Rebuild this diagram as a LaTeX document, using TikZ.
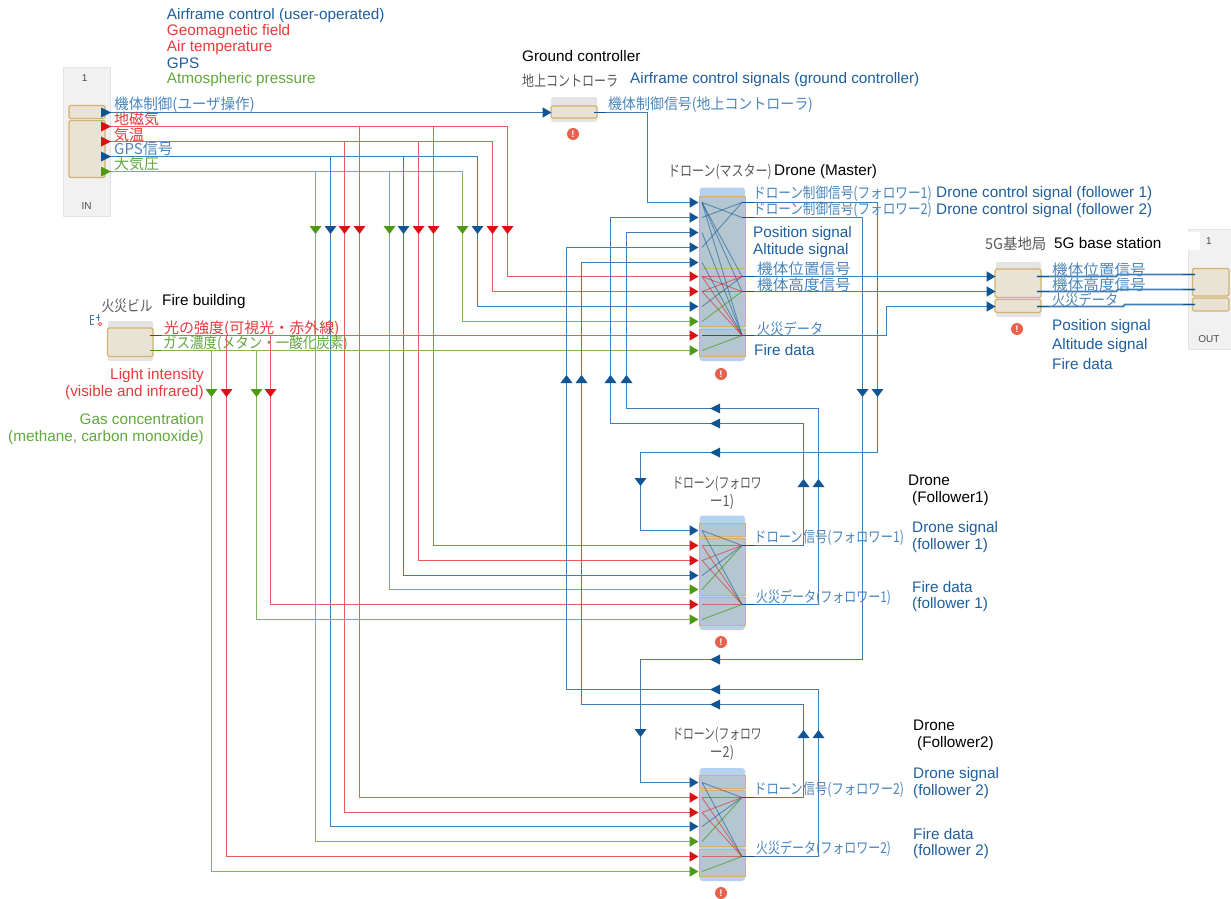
\documentclass[tikz,border=0pt]{standalone}
\usepackage{fontspec}
\usepackage{graphicx}
\setmainfont{Liberation Sans}
\newfontfamily\jpf{Noto Sans CJK JP}
\usetikzlibrary{arrows.meta}
\definecolor{bl}{HTML}{3F7EB6}
\definecolor{bld}{HTML}{0F5596}
\definecolor{rd}{HTML}{EA5C5B}
\definecolor{rdd}{HTML}{DC0F14}
\definecolor{gn}{HTML}{7FB758}
\definecolor{gnd}{HTML}{4C9A14}
\definecolor{tanb}{HTML}{D2B36E}
\definecolor{tanf}{HTML}{E9E3D6}
\definecolor{outer}{HTML}{B5D3F0}
\definecolor{inner}{HTML}{B4C7D1}
\definecolor{grayb}{HTML}{E4E4E4}
\definecolor{pane}{HTML}{F1F1F1}
\definecolor{tblue}{HTML}{1F5F9E}
\definecolor{jblue}{HTML}{4C86BC}
\definecolor{tred}{HTML}{E63B3B}
\definecolor{tgreen}{HTML}{62A93E}
\definecolor{errc}{HTML}{E9604C}
\tikzset{
  box/.style={inner sep=0pt,outer sep=0pt,draw=none},
  panebox/.style={box,fill=pane,draw=grayb,line width=.7pt},
  grayblock/.style={box,fill=grayb,rounded corners=2pt},
  tanblock/.style={box,fill=tanf,draw=tanb,line width=1.1pt,rounded corners=1.5pt},
  outerblock/.style={box,fill=outer,rounded corners=3pt},
  innerblock/.style={box,fill=inner},
  bandblock/.style={box,draw=tanb,line width=1pt,fill=inner},
  bw/.style={draw=bl,line width=1.8pt},
  rw/.style={draw=rd,line width=1.8pt},
  gw/.style={draw=gn,line width=1.8pt},
  bt/.style={bw,-{Triangle[length=9pt,width=10pt,color=bld]}},
  rt/.style={rw,-{Triangle[length=9pt,width=10pt,color=rdd]}},
  gt/.style={gw,-{Triangle[length=9pt,width=10pt,color=gnd]}},
  stub/.style={draw=bld,line width=1.5pt},
  ib/.style={draw=bld,line width=.9pt,opacity=.55},
  ir/.style={draw=rdd,line width=.9pt,opacity=.5},
  ig/.style={draw=gnd,line width=.9pt,opacity=.7},
  lab/.style={inner sep=0pt,anchor=west,yshift=-1.5pt,font=\fontsize{15.3}{17}\selectfont},
  labr/.style={inner sep=0pt,anchor=east,yshift=-1.5pt,font=\fontsize{15.3}{17}\selectfont},
  jl/.style={inner sep=0pt,anchor=west,yshift=-1.5pt,font=\jpf\fontsize{15}{17}\selectfont},
  jc/.style={inner sep=0pt,anchor=center,yshift=-1.5pt,font=\jpf\fontsize{15}{17}\selectfont,text=black!65},
  err/.style={circle,fill=errc,text=white,inner sep=0pt,minimum size=12pt,font=\bfseries\fontsize{9.5}{9.5}\selectfont},
  paneltext/.style={inner sep=0pt,font=\fontsize{10}{10}\selectfont,text=black!70},
}
\newcommand\sx[2]{\scalebox{#1}[1]{#2}}
\newcommand\blk[6]{%
  \pgfmathsetmacro\bw{#5-#3}\pgfmathsetmacro\bh{#6-#4}%
  \pgfmathsetmacro\bx{(#3+#5)/2}\pgfmathsetmacro\by{(#4+#6)/2}%
  \node[#2,minimum width=\bw pt,minimum height=\bh pt] (#1) at (\bx,\by) {};}
\newcommand\route[4]{\draw[#1] (#2) -| (#3,0 |- #4) -- (#4);}
\newcommand\mkD[3]{\fill[#1,shift={(#2,#3)}] (-6,-4) -- (6,-4) -- (0,4) -- cycle;}
\newcommand\mkU[3]{\fill[#1,shift={(#2,#3)}] (-6,4) -- (6,4) -- (0,-4) -- cycle;}
\newcommand\mkL[3]{\fill[#1,shift={(#2,#3)}] (5,-5) -- (5,5) -- (-5,0) -- cycle;}
\newcommand\mkR[3]{\fill[#1,shift={(#2,#3)}] (-5,-5) -- (-5,5) -- (5,0) -- cycle;}
\begin{document}
\begin{tikzpicture}[x=1pt,y=-1pt]
\useasboundingbox[fill=white] (0,0) rectangle (1231,899);
% ---------- blocks
\blk{inpane}{panebox}{63.5}{67}{110}{216.5}
\blk{inA}{tanblock}{69}{105.5}{105}{118.5}
\blk{inB}{tanblock}{69}{120.5}{105}{177.5}
\blk{outpane}{panebox}{1188}{229.5}{1233}{349}
\blk{outcell}{box,fill=white}{1188}{232}{1200}{250}
\blk{outA}{tanblock}{1192.5}{268.5}{1229}{296}
\blk{outB}{tanblock}{1192.5}{298}{1229}{311}
\blk{gcO}{grayblock}{551}{97}{597}{122}
\blk{gcT}{tanblock}{551}{106}{597}{118}
\blk{bsO}{grayblock}{996}{262}{1041}{317}
\blk{bsA}{tanblock}{995}{269}{1041}{297.5}
\blk{bsB}{tanblock}{995}{299.5}{1041}{312.5}
\blk{fbO}{grayblock}{108}{321}{153}{361}
\blk{fbT}{tanblock}{107.5}{328}{153}{356.5}
% master
\blk{mO}{outerblock}{699.5}{187.5}{745}{361}
\blk{mA}{bandblock}{699.5}{196}{745}{268}
\blk{mB}{bandblock}{699.5}{268}{745}{326.5}
\blk{mC}{bandblock}{699.5}{329}{745}{356}
% follower 1
\blk{aO}{outerblock}{699.5}{515.5}{745}{630}
\blk{aA}{bandblock}{699.5}{523.5}{745}{536.5}
\blk{aB}{bandblock}{699.5}{538}{745}{595}
\blk{aC}{bandblock}{699.5}{597}{745}{625}
% follower 2
\blk{cO}{outerblock}{699.5}{768}{745}{881}
\blk{cA}{bandblock}{699.5}{775}{745}{788}
\blk{cB}{bandblock}{699.5}{790}{745}{846.5}
\blk{cC}{bandblock}{699.5}{849}{745}{876.5}
% ---------- pins
\foreach \n/\y in {1/112.5,2/126.5,3/141.5,4/156.5,5/171.5}{\coordinate (in\n) at (105,\y);}
\foreach \n/\y in {1/202.5,2/217.5,3/232.5,4/247.5,5/262.5,6/276.5,7/291.5,8/306.5,9/321.5,10/335.5,11/350.5}{\coordinate (mi\n) at (698.5,\y);\coordinate (mj\n) at (702,\y);}
\foreach \n/\y in {1/202.5,2/217.5,3/276.5,4/291.5,5/335.5}{\coordinate (mo\n) at (742,\y);}
\foreach \n/\y in {1/530.5,2/545.5,3/560.5,4/575.5,5/589.5,6/604.5,7/619.5}{\coordinate (ai\n) at (698.5,\y);\coordinate (aj\n) at (702,\y);}
\foreach \n/\y in {1/545.5,2/604.5}{\coordinate (ao\n) at (742,\y);}
\foreach \n/\y in {1/782.5,2/797.5,3/812.5,4/826.5,5/841.5,6/856.5,7/871.5}{\coordinate (ci\n) at (698.5,\y);\coordinate (cj\n) at (702,\y);}
\foreach \n/\y in {1/797.5,2/856.5}{\coordinate (co\n) at (742,\y);}
\foreach \n/\y in {1/276.5,2/291.5,3/306.5}{\coordinate (bi\n) at (995.5,\y);\coordinate (bo\n) at (1037,\y);}
\coordinate (ou1) at (1195,274.5);\coordinate (ou2) at (1195,289.5);\coordinate (ou3) at (1195,304.5);
\coordinate (gi) at (551.5,112.5);\coordinate (go) at (594,112.5);
\coordinate (fr) at (150,335.5);\coordinate (fg) at (150,350.5);
% ---------- internal wires master
\foreach \o in {2,3,4,5}{\draw[ib] (mj1) -- (mo\o);}
\draw[ib] (mj2) -- (mo1);\draw[ib] (mj4) -- (mo1);
\draw[ib] (mj3) -- (mo5);\draw[ib] (mj5) -- (mo5);\draw[ib] (mj8) -- (mo3);
\foreach \o in {3,4,5}{\draw[ir] (mj6) -- (mo\o);\draw[ir] (mj7) -- (mo\o);}
\draw[ir,opacity=1] (mj10) -- (mo5);
\draw[ig] (mj9) -- (mo4);\draw[ig] (mj11) -- (mo5);
% internal wires followers
\foreach \p in {a,c}{
  \foreach \o in {1,2}{\draw[ib] (\p j1) -- (\p o\o);\draw[ir] (\p j2) -- (\p o\o);\draw[ir] (\p j3) -- (\p o\o);}
  \draw[ib] (\p j4) -- (\p o1);\draw[ig] (\p j5) -- (\p o1);
  \draw[ir] (\p j6) -- (\p o2);\draw[ig] (\p j7) -- (\p o2);
}
% ---------- wires: inputs to drones
\draw[bt] (in1) -- (gi);
\draw[bt] (go) -| (647.5,0 |- mi1) -- (mi1);
\route{rt}{in2}{507.5}{mi6}\route{rt}{in3}{492.5}{mi7}\route{bt}{in4}{477.5}{mi8}\route{gt}{in5}{462.5}{mi9}
\route{rt}{in2}{433.5}{ai2}\route{rt}{in3}{418.5}{ai3}\route{bt}{in4}{403.5}{ai4}\route{gt}{in5}{389.5}{ai5}
\route{rt}{in2}{359.5}{ci2}\route{rt}{in3}{344.5}{ci3}\route{bt}{in4}{330.5}{ci4}\route{gt}{in5}{315.5}{ci5}
\draw[rt] (fr) -- (mi10);\draw[gt] (fg) -- (mi11);
\route{rt}{fr}{270.5}{ai6}\route{gt}{fg}{256.5}{ai7}
\route{rt}{fr}{226.5}{ci6}\route{gt}{fg}{211.5}{ci7}
% master outputs to followers
\draw[bt] (mo1) -| (877.5,452.5) -| (640.5,0 |- ai1) -- (ai1);
\draw[bt] (mo2) -| (862.5,659.5) -| (640.5,0 |- ci1) -- (ci1);
% follower outputs to master
\draw[bt] (ao1) -| (803.5,423.5) -| (610.5,0 |- mi2) -- (mi2);
\draw[bt] (ao2) -| (818.5,408.5) -| (626.5,0 |- mi3) -- (mi3);
\draw[bt] (co1) -| (803.5,704.5) -| (581.5,0 |- mi5) -- (mi5);
\draw[bt] (co2) -| (818.5,689.5) -| (566.5,0 |- mi4) -- (mi4);
% master to base station
\draw[bt] (mo3) -- (bi1);\draw[bt] (mo4) -- (bi2);
\draw[bt] (mo5) -| (886.5,0 |- bi3) -- (bi3);
% base station to out
\draw[bw] (bo1) -- ++(79,0) -- ++(2,-2) -- (ou1);
\draw[bw] (bo2) -- ++(79,0) -- ++(2,-2) -- (ou2);
\draw[bw] (bo3) -- ++(86,0) -- ++(2,-2) -- (ou3);
% stubs
\foreach \o in {mo1,mo2,mo3,mo4,mo5,ao1,ao2,co1,co2,bo1,bo2,bo3,go}{\draw[stub] (\o) -- ++(12,0);}
\foreach \o in {ou1,ou2,ou3}{\draw[stub] (\o) -- ++(-12,0);}
\draw[draw=rdd,line width=1.5pt] (fr) -- ++(12,0);
\draw[draw=gnd,line width=1.5pt] (fg) -- ++(12,0);
% ---------- mid-wire arrowheads
\mkR{bld}{106}{112.5}\mkR{rdd}{106}{126.5}\mkR{rdd}{106}{141.5}\mkR{bld}{106}{156.5}\mkR{gnd}{106}{171.5}
\foreach \x/\c in {315.5/gnd,330.5/bld,344.5/rdd,359.5/rdd,389.5/gnd,403.5/bld,418.5/rdd,433.5/rdd,462.5/gnd,477.5/bld,492.5/rdd,507.5/rdd}{\mkD{\c}{\x}{230}}
\foreach \x/\c in {211.5/gnd,226.5/rdd,256.5/gnd,270.5/rdd}{\mkD{\c}{\x}{393}}
\foreach \x in {566.5,581.5,610.5,626.5}{\mkU{bld}{\x}{379}}
\foreach \x in {862.5,877.5}{\mkD{bld}{\x}{393}}
\foreach \y in {408.5,423.5,452.5,659.5,689.5,704.5}{\mkL{bld}{715}{\y}}
\mkD{bld}{640.5}{482}\mkD{bld}{640.5}{733}
\foreach \y in {483,734}{\mkU{bld}{803.5}{\y}\mkU{bld}{818.5}{\y}}
% fire building icon
\draw[bl,line width=.8pt] (90,315) -- (90,324) (90,315) -- (94,315) (90,319.5) -- (94,319.5) (90,324) -- (94,324);
\draw[bl,line width=.8pt] (98,314) -- (98,321) (96,317) -- (100,317);
\draw[rd,line width=.9pt] (100,324) circle (1.8);
% ---------- error marks
\node[err] (e1) at (721,374) {!};
\node[err] (e2) at (573,134) {!};
\node[err] (e3) at (1017,329) {!};
\node[err] (e4) at (721,642) {!};
\node[err] (e5) at (721,893) {!};
% ---------- panel texts
\node[paneltext] (t1) at (84.7,78) {1};
\node[paneltext] (t2) at (86.7,206.5) {IN};
\node[paneltext] (t3) at (1209,241) {1};
\node[paneltext] (t4) at (1209,339) {OUT};
% ---------- english labels
\node[lab,text=tblue] (l1) at (166.7,14) {Airframe control (user-operated)};
\node[lab,text=tred] (l2) at (166.7,30) {Geomagnetic field};
\node[lab,text=tred] (l3) at (166.7,46) {Air temperature};
\node[lab,text=tblue] (l4) at (166.7,62) {GPS};
\node[lab,text=tgreen] (l5) at (166.7,78) {Atmospheric pressure};
\node[lab] (l6) at (522,55) {Ground controller};
\node[lab,text=tblue] (l7) at (630,78) {Airframe control signals (ground controller)};
\node[lab] (l8) at (774,170) {Drone (Master)};
\node[lab,text=tblue] (l9) at (936,192) {Drone control signal (follower 1)};
\node[lab,text=tblue] (l10) at (936,209) {Drone control signal (follower 2)};
\node[lab,text=tblue] (l11) at (753,232) {Position signal};
\node[lab,text=tblue] (l12) at (753,249) {Altitude signal};
\node[lab,text=tblue] (l13) at (754,349) {Fire data};
\node[lab] (l14) at (1054,242) {5G base station};
\node[lab,text=tblue] (l15) at (1052,325) {Position signal};
\node[lab,text=tblue] (l16) at (1052,344) {Altitude signal};
\node[lab,text=tblue] (l17) at (1052,363) {Fire data};
\node[lab] (l18) at (162,300) {Fire building};
\node[labr,text=tred] (l19) at (204,374) {Light intensity};
\node[labr,text=tred] (l20) at (204,391) {(visible and infrared)};
\node[labr,text=tgreen] (l21) at (204,418) {Gas concentration};
\node[labr,text=tgreen] (l22) at (204,436) {(methane, carbon monoxide)};
\node[lab] (l23) at (908,479) {Drone};
\node[lab] (l24) at (912,497) {(Follower1)};
\node[lab,text=tblue] (l25) at (912,527) {Drone signal};
\node[lab,text=tblue] (l26) at (912,544) {(follower 1)};
\node[lab,text=tblue] (l27) at (912,586) {Fire data};
\node[lab,text=tblue] (l28) at (912,603) {(follower 1)};
\node[lab] (l29) at (913,724) {Drone};
\node[lab] (l30) at (917,742) {(Follower2)};
\node[lab,text=tblue] (l31) at (913,773) {Drone signal};
\node[lab,text=tblue] (l32) at (913,790) {(follower 2)};
\node[lab,text=tblue] (l33) at (913,833) {Fire data};
\node[lab,text=tblue] (l34) at (913,850) {(follower 2)};
% ---------- japanese labels
\node[jl,text=jblue] (j1) at (114,103) {\sx{.97}{機体制御(ユーザ操作)}};
\node[jl,text=tred] (j2) at (114,117) {地磁気};
\node[jl,text=tred] (j3) at (114,133) {気温};
\node[jl,text=jblue] (j4) at (114,147) {GPS信号};
\node[jl,text=tgreen] (j5) at (114,162) {大気圧};
\node[jc,anchor=west] (j6) at (522,79) {\sx{.8}{地上コントローラ}};
\node[jl,text=jblue] (j7) at (608,103) {\sx{.93}{機体制御信号(地上コントローラ)}};
\node[jc,anchor=west] (j8) at (668,170) {\sx{.8}{ドローン(マスター)}};
\node[jl,text=jblue] (j9) at (753,192) {\sx{.84}{ドローン制御信号(フォロワー1)}};
\node[jl,text=jblue] (j10) at (753,208) {\sx{.84}{ドローン制御信号(フォロワー2)}};
\node[jl,text=jblue] (j11) at (757,267) {\sx{1.04}{機体位置信号}};
\node[jl,text=jblue] (j12) at (757,283) {\sx{1.04}{機体高度信号}};
\node[jl,text=jblue] (j13) at (757,327) {\sx{.88}{火災データ}};
\node[jc,anchor=west] (j14) at (985,242) {\sx{.96}{5G基地局}};
\node[jl,text=jblue] (j15) at (1052,268) {\sx{1.04}{機体位置信号}};
\node[jl,text=jblue] (j16) at (1052,283) {\sx{1.04}{機体高度信号}};
\node[jl,text=jblue] (j17) at (1052,298) {\sx{.88}{火災データ}};
\node[jc] (j18) at (127,304) {\sx{.85}{火災ビル}};
\node[jl,text=tred] (j19) at (164,327) {光の強度(可視光・赤外線)};
\node[jl,text=tgreen] (j20) at (163,342) {\sx{.9}{ガス濃度(メタン・一酸化炭素)}};
\node[jc] (j21) at (717,482) {\sx{.72}{ドローン(フォロワ}};
\node[jc] (j22) at (722,500) {\sx{.85}{ー1)}};
\node[jl,text=jblue] (j23) at (754,536) {\sx{.82}{ドローン信号(フォロワー1)}};
\node[jl,text=jblue] (j24) at (756,596) {\sx{.8}{火災データ(フォロワー1)}};
\node[jc] (j25) at (717,733) {\sx{.72}{ドローン(フォロワ}};
\node[jc] (j26) at (722,751) {\sx{.85}{ー2)}};
\node[jl,text=jblue] (j27) at (754,788) {\sx{.82}{ドローン信号(フォロワー2)}};
\node[jl,text=jblue] (j28) at (756,847) {\sx{.8}{火災データ(フォロワー2)}};
\end{tikzpicture}
\end{document}
